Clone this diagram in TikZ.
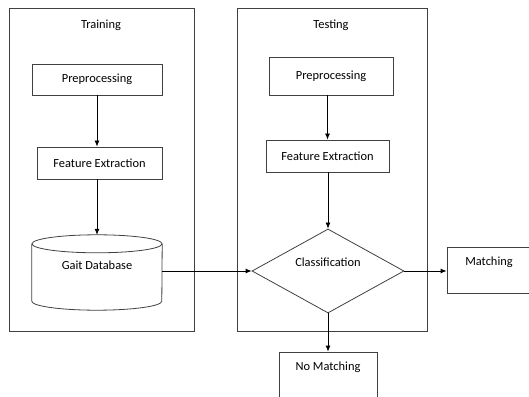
\documentclass[tikz,border=0pt]{standalone}
\usepackage{fontspec}
\setmainfont{Carlito}
\usepackage{tikz}
\usetikzlibrary{arrows.meta}
\usetikzlibrary{shapes,positioning}

\begin{document}
\begin{tikzpicture}[x=1pt, y=1pt,
    font=\fontsize{12.4}{14.5}\selectfont,
    line/.style={draw=black!75, line width=0.8pt},
    box/.style={line, rectangle, inner sep=0pt, align=center},
    arrow/.style={draw=black, line width=0.8pt, -{Latex[length=6pt,width=5pt]}}]
    \useasboundingbox (0, 0) rectangle (529, 396);

    % Training
    \draw[line] (9, 65) rectangle (194, 388);
    \node (trainTitle) at (101, 371) {Training};
    \node[box, minimum width=130, minimum height=31] (prepL) at (97, 316.5) {Preprocessing};
    \node[box, minimum width=125, minimum height=32] (featL) at (99.5, 233) {Feature Extraction};
    \node[align=center, inner sep=0pt, minimum width=130, minimum height=75] (db) at (97, 123.5) {Gait Database\\[-5pt]\strut};
    \draw[line] ([yshift=-9pt]db.north west) -- ([yshift=9pt]db.south west)
        arc[start angle=180, end angle=360, x radius=65pt, y radius=9pt] -- ([yshift=-9pt]db.north east);
    \draw[line] ([yshift=-9pt]db.north) ellipse [x radius=65pt, y radius=9pt];

    % Testing
    \draw[line] (237, 65) rectangle (427, 388);
    \node (testTitle) at (331, 371) {Testing};
    \node[box, minimum width=124, minimum height=38] (prepR) at (331, 320) {Preprocessing};
    \node[box, minimum width=123, minimum height=32] (featR) at (327.5, 240) {Feature Extraction};
    \node[line, diamond, inner sep=0pt, aspect=1.8, align=center, minimum width=152, minimum height=84] (cls) at (328, 125) {Classification\\[-2pt]\strut};

    % results
    \node[box, minimum width=84, minimum height=46] (match) at (489, 126) {Matching\\[-2pt]\strut};
    \node[box, minimum width=98, minimum height=46] (nomatch) at (328, 21) {No Matching\\[-2pt]\strut};

    \draw[arrow] (prepL.south) -- (prepL.south |- featL.north);
    \draw[arrow] (featL.south -| db.north) -- (db.north);
    \draw[arrow] (cls.west -| db.east) -- (cls.west);
    \draw[arrow] (featR.north |- prepR.south) -- (featR.north);
    \draw[arrow] (cls.north |- featR.south) -- (cls.north);
    \draw[arrow] (cls.east) -- (cls.east -| match.west);
    \draw[arrow] (cls.south) -- (nomatch.north);
\end{tikzpicture}
\end{document}
